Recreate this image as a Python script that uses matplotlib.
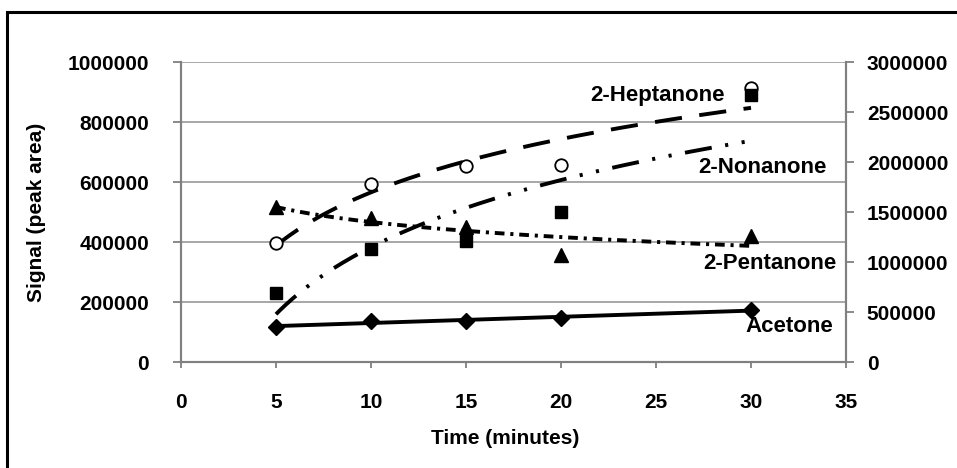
import numpy as np
import matplotlib.pyplot as plt
from matplotlib.patches import Rectangle

plt.rcParams["font.family"] = ["Liberation Sans", "DejaVu Sans"]
plt.rcParams["font.weight"] = "bold"

time_min = [5, 10, 15, 20, 30]

# left axis (0 - 1 000 000)
acetone = [117000, 137000, 138000, 147000, 173000]
pentanone = [517000, 480000, 450000, 357000, 420000]
# right axis (0 - 3 000 000)
heptanone = [1190000, 1780000, 1960000, 1970000, 2740000]
nonanone = [690000, 1130000, 1210000, 1500000, 2670000]

x_ticks = [0, 5, 10, 15, 20, 25, 30, 35]
left_ticks = [0, 200000, 400000, 600000, 800000, 1000000]
right_ticks = [0, 500000, 1000000, 1500000, 2000000, 2500000, 3000000]

W, H = 957, 468
fig = plt.figure(figsize=(W / 100, H / 100), dpi=100)
ax = fig.add_axes([181 / W, 1 - 362 / H, 665 / W, 300 / H])
ax2 = ax.twinx()

x = np.array(time_min, dtype=float)
xs = np.linspace(5, 30, 200)


def log_fit(vals):
    b, a = np.polyfit(np.log(x), vals, 1)
    return a + b * np.log(xs)


def lin_fit(vals):
    b, a = np.polyfit(x, vals, 1)
    return a + b * xs


lw = 2.8
# acetone: solid linear trend, diamonds
ax.plot(xs, lin_fit(acetone), color="black", lw=lw, zorder=3)
ax.plot(x, acetone, "D", color="black", ms=8, zorder=4)
# 2-pentanone: dash-dot trend, triangles
ax.plot(xs, log_fit(pentanone), color="black", lw=lw,
        linestyle=(0, (2.5, 1.5, 0.8, 1.5)), zorder=3)
ax.plot(x, pentanone, "^", color="black", ms=10, zorder=4)
# 2-heptanone: long dashes, open circles
ax2.plot(xs, log_fit(heptanone), color="black", lw=lw,
         linestyle=(0, (7, 4.5)), zorder=3)
ax2.plot(x, heptanone, "o", mfc="white", mec="black", mew=1.3, ms=9, zorder=4)
# 2-nonanone: dash-dot-dot, squares
ax2.plot(xs, log_fit(nonanone), color="black", lw=lw,
         linestyle=(0, (7, 3.5, 0.8, 3.5, 0.8, 3.5)), zorder=3)
ax2.plot(x, nonanone, "s", color="black", ms=8, zorder=4)

ax.set_xlim(0, 35)
ax.set_ylim(0, 1000000)
ax2.set_ylim(0, 3000000)
ax.set_xticks(x_ticks)
ax.set_yticks(left_ticks)
ax2.set_yticks(right_ticks)
ax.set_yticklabels([str(v) for v in left_ticks])
ax2.set_yticklabels([str(v) for v in right_ticks])

ax.grid(axis="y", color="#a0a0a0", lw=1.3)
ax.set_axisbelow(True)
for a in (ax, ax2):
    for s in a.spines.values():
        s.set_color("#808080")
        s.set_linewidth(1.5)
    a.spines["top"].set_visible(False)
ax.tick_params(axis="y", length=6, width=1.3, color="#808080",
               labelsize=15, pad=17)
ax.tick_params(axis="x", length=4, width=1.3, color="#808080",
               labelsize=15, pad=18)
ax2.tick_params(axis="y", length=6, width=1.3, color="#808080",
                labelsize=15, pad=9)

fig.text(37 / W, 1 - 212 / H, "Signal (peak area)", rotation=90,
         ha="center", va="center", fontsize=15, fontweight="bold")
fig.text(505 / W, 1 - 438 / H, "Time (minutes)", ha="center", va="center",
         fontsize=15, fontweight="bold")

ax.text(28.6, 890000, "2-Heptanone", ha="right", va="center", fontsize=16)
ax.text(34.0, 650000, "2-Nonanone", ha="right", va="center", fontsize=16)
ax.text(34.5, 327000, "2-Pentanone", ha="right", va="center", fontsize=16)
ax.text(34.3, 117000, "Acetone", ha="right", va="center", fontsize=16)

# outer frame (runs off the right and bottom edges)
fig.patches.append(Rectangle((7 / W, -0.05), 1.1, 1 - 12 / H + 0.05,
                             transform=fig.transFigure, fill=False,
                             edgecolor="black", lw=2.2))

fig.savefig("out.png", dpi=100)
